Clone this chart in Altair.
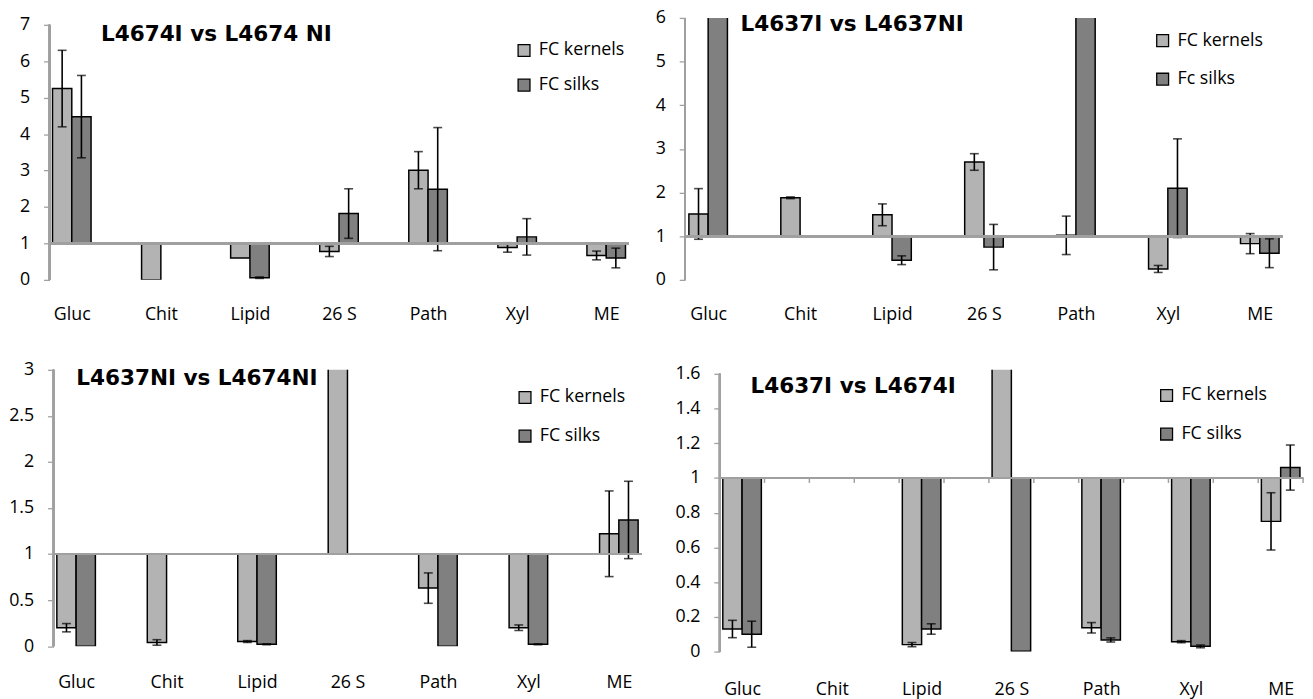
import altair as alt
import pandas as pd

categories = ["Gluc", "Chit", "Lipid", "26 S", "Path", "Xyl", "ME"]

# ---- Panel 1 ----
p1_title = "L4674I vs L4674 NI"
p1_labels = ["FC kernels", "FC silks"]
p1_kernels = [5.25, 0.0, 0.60, 0.78, 3.01, 0.89, 0.67]
p1_kernels_err = [1.05, None, None, 0.14, 0.51, 0.13, 0.12]
p1_silks = [4.48, None, 0.06, 1.82, 2.49, 1.18, 0.60]
p1_silks_err = [1.13, None, 0.02, 0.68, 1.69, 0.50, 0.27]
p1_yticks = [0, 1, 2, 3, 4, 5, 6, 7]

# ---- Panel 2 ----
p2_title = "L4637I vs L4637NI"
p2_labels = ["FC kernels", "Fc silks"]
p2_kernels = [1.51, 1.88, 1.49, 2.70, 1.02, 0.25, 0.83]
p2_kernels_err = [0.58, 0.02, 0.25, 0.19, 0.44, 0.08, 0.23]
p2_silks = [9.0, None, 0.45, 0.75, 8.0, 2.10, 0.61]
p2_silks_err = [None, None, 0.10, 0.52, None, 1.13, 0.33]
p2_yticks = [0, 1, 2, 3, 4, 5, 6]

# ---- Panel 3 ----
p3_title = "L4637NI vs L4674NI"
p3_labels = ["FC kernels", "FC silks"]
p3_kernels = [0.20, 0.04, 0.05, 4.0, 0.63, 0.20, 1.22]
p3_kernels_err = [0.045, 0.03, 0.01, None, 0.165, 0.03, 0.465]
p3_silks = [0.0, None, 0.02, None, 0.0, 0.02, 1.37]
p3_silks_err = [None, None, 0.005, None, None, 0.005, 0.42]
p3_yticks = [0, 0.5, 1, 1.5, 2, 2.5, 3]

# ---- Panel 4 ----
p4_title = "L4637I vs L4674I"
p4_labels = ["FC kernels", "FC silks"]
p4_kernels = [0.13, None, 0.04, 3.0, 0.137, 0.057, 0.75]
p4_kernels_err = [0.05, None, 0.012, None, 0.03, 0.006, 0.165]
p4_silks = [0.10, None, 0.13, 0.002, 0.067, 0.03, 1.06]
p4_silks_err = [0.075, None, 0.03, None, 0.012, 0.008, 0.13]
p4_yticks = [0, 0.2, 0.4, 0.6, 0.8, 1, 1.2, 1.4, 1.6]

LIGHT = "#b3b3b3"
DARK = "#808080"
GRAY = "#a0a0a0"
LABEL_EXPR = "['Gluc','Chit','Lipid','26 S','Path','Xyl','ME'][datum.value]"


def panel(title, labels, kern, kern_err, silk, silk_err, yticks,
          xdom, ydom, step, height, bw_px, axis_x, axis_offset,
          title_dx, title_dy, leg_x, leg_y, leg_row, xlab_pad, base_ticks=False):
    width = step * (xdom[1] - xdom[0])
    bw = bw_px / step
    rows = []
    for i, cat in enumerate(categories):
        for s, vals, errs, sign in ((labels[0], kern, kern_err, -1), (labels[1], silk, silk_err, 1)):
            v = vals[i]
            if v is None:
                continue
            x0 = i if sign > 0 else i - bw
            x1 = i + bw if sign > 0 else i
            e = errs[i]
            rows.append(dict(cat=cat, series=s, value=v, base=1.0, x0=x0, x1=x1,
                             xc=(x0 + x1) / 2,
                             lo=(v - e) if e is not None else None,
                             hi=(v + e) if e is not None else None))
    df = pd.DataFrame(rows)
    err_df = df.dropna(subset=["lo"])
    caps = pd.concat([
        err_df[["xc", "lo"]].rename(columns={"lo": "yv"}),
        err_df[["xc", "hi"]].rename(columns={"hi": "yv"}),
    ])

    xscale = alt.Scale(domain=xdom, nice=False, zero=False)
    yscale = alt.Scale(domain=ydom, nice=False, zero=False)
    xaxis = alt.Axis(values=list(range(len(categories))), labelExpr=LABEL_EXPR,
                     domain=False, ticks=False, tickSize=0, grid=False, title=None,
                     labelPadding=xlab_pad, labelBaseline="middle", labelFlush=False,
                     labelOverlap=False, labelBound=False)
    yaxis = alt.Axis(values=yticks, format="~g", domain=False, grid=False, title=None,
                     tickColor=GRAY, tickSize=6, tickWidth=1.3, labelPadding=14,
                     labelOverlap=False, labelFlush=False, labelBound=False,
                     offset=axis_offset)

    def X(field):
        return alt.X(field, scale=xscale, axis=xaxis)

    def Y(field):
        return alt.Y(field, scale=yscale, axis=yaxis)

    def XD(v):
        return alt.XDatum(v, scale=xscale, axis=xaxis)

    def YD(v):
        return alt.YDatum(v, scale=yscale, axis=yaxis)

    bars = alt.Chart(df).mark_bar(stroke="black", strokeWidth=1.5, clip=True).encode(
        x=X("x0:Q"),
        x2="x1:Q",
        y=Y("value:Q"),
        y2="base:Q",
        color=alt.Color("series:N",
                        scale=alt.Scale(domain=labels, range=[LIGHT, DARK]),
                        legend=alt.Legend(title=None, orient="none", legendX=leg_x, legendY=leg_y,
                                          symbolType="square", symbolSize=144,
                                          symbolStrokeColor="black", symbolStrokeWidth=1.3,
                                          labelFont="Open Sans", labelFontSize=18,
                                          labelColor="black", rowPadding=leg_row,
                                          labelOffset=6, padding=0)),
    )
    rules = alt.Chart(err_df).mark_rule(color="black", strokeWidth=1.6).encode(
        x=X("xc:Q"), y=Y("lo:Q"), y2="hi:Q")
    capm = alt.Chart(caps).mark_tick(color="black", orient="horizontal", size=9,
                                     thickness=1.6).encode(x=X("xc:Q"), y=Y("yv:Q"))
    baseline = alt.Chart(df).mark_rule(color=GRAY, strokeWidth=2).encode(
        x=XD(axis_x), x2=alt.datum(xdom[1]), y=YD(1))
    yline = alt.Chart(df).mark_rule(color=GRAY, strokeWidth=1.5).encode(
        x=XD(axis_x), y=YD(0), y2=alt.datum(yticks[-1]))
    layers = [bars, rules, capm, baseline, yline]
    if base_ticks:
        tick_df = pd.DataFrame({"tx": [0.25 + 0.5 * k for k in range(13)]})
        layers.append(alt.Chart(tick_df).mark_rule(color=GRAY, strokeWidth=1.5, y2Offset=5).encode(
            x=X("tx:Q"), y=YD(1), y2=alt.datum(1)))
    return alt.layer(*layers).properties(
        width=width, height=height,
        title=alt.TitleParams(title, anchor="start", frame="group", font="DejaVu Sans",
                              fontSize=21.8, fontWeight="bold", color="black",
                              dx=title_dx, dy=title_dy, offset=0, baseline="middle"),
    )


c1 = panel(p1_title, p1_labels, p1_kernels, p1_kernels_err, p1_silks, p1_silks_err, p1_yticks,
           [-0.25, 6.25], [0, 7.19], 90.1, 265, 19.5, -0.25, 0,
           52, 40, 471, 24, 17, 35)
c2 = panel(p2_title, p2_labels, p2_kernels, p2_kernels_err, p2_silks, p2_silks_err, p2_yticks,
           [-0.25, 6.25], [0, 6], 93.0, 265, 19.5, -0.25, 0,
           56, 37, 474, 14, 21, 35)
c3 = panel(p3_title, p3_labels, p3_kernels, p3_kernels_err, p3_silks, p3_silks_err, p3_yticks,
           [-0.294, 6.25], [0, 3], 91.5, 279.5, 19.5, -0.25, -4,
           27, 39, 472, 19, 21, 37)
c4 = panel(p4_title, p4_labels, p4_kernels, p4_kernels_err, p4_silks, p4_silks_err, p4_yticks,
           [-0.634, 6.25], [0, 1.623], 90.8, 285, 19.5, -0.25, -35,
           66, 43, 478, 17, 21, 38, base_ticks=True)

chart = alt.concat(c1, c2, c3, c4, columns=2, spacing={"row": 91, "column": 44},
                   bounds="flush").resolve_scale(
    color="independent").resolve_legend(color="independent").properties(
    padding={"left": 0, "top": -3, "right": 0, "bottom": 0}
).configure_view(stroke=None).configure_axis(
    labelFont="Open Sans", labelFontSize=18, labelColor="black"
)

chart.save("out.html", embed_options={"renderer": "svg", "actions": False})
